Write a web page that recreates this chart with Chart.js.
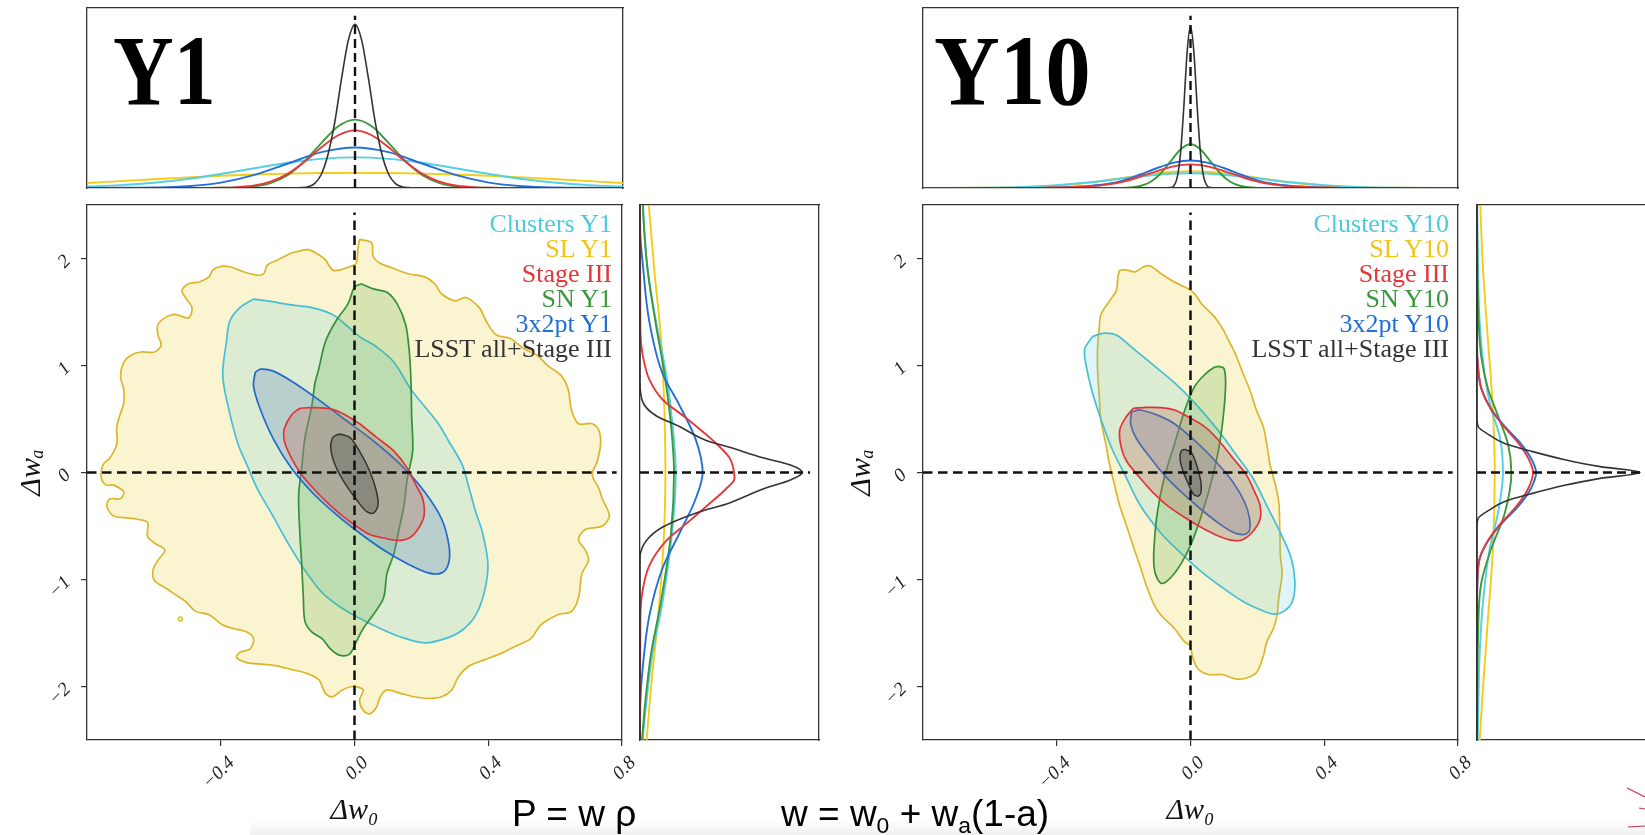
<!DOCTYPE html>
<html>
<head>
<meta charset="utf-8">
<title>LSST w0-wa forecasts</title>
<script src="https://cdn.jsdelivr.net/npm/chart.js@4.4.1/dist/chart.umd.min.js"></script>
<style>
  body { margin: 0; width: 1645px; height: 835px; overflow: hidden; background: #fff; position: relative; }
  canvas { position: absolute; }
  .big { position: absolute; top: 21px; font: bold 100px/100px "Liberation Serif", "DejaVu Serif", serif; color: #000; transform-origin: left top; }
  .legend { position: absolute; top: 211px; width: 300px; text-align: right; font: 26px/25px "Liberation Serif", "DejaVu Serif", serif; }
  .eq { position: absolute; top: 795px; font: 37px/37px "Liberation Sans", Arial, sans-serif; color: #000; white-space: nowrap; }
  .eq sub { font-size: 0.62em; vertical-align: -0.3em; line-height: 0; }
  .shade { position: absolute; left: 250px; top: 820px; width: 1395px; height: 15px; background: linear-gradient(to bottom, rgba(244,244,244,0), #f0f0f0); }
</style>
</head>
<body>
<div class="shade"></div>
<canvas id="top1" width="540" height="184" style="left:85px;top:6px"></canvas>
<canvas id="main1" width="660" height="640" style="left:0px;top:195px"></canvas>
<canvas id="side1" width="183" height="539" style="left:638px;top:203px"></canvas>
<canvas id="top10" width="539" height="184" style="left:921px;top:6px"></canvas>
<canvas id="main10" width="666" height="640" style="left:830px;top:195px"></canvas>
<canvas id="side10" width="183" height="539" style="left:1475px;top:203px"></canvas>

<div class="big" style="left:113px;transform:scaleX(0.84)">Y1</div>
<div class="big" style="left:934px;transform:scaleX(0.91)">Y10</div>
<div class="legend" id="leg1" style="left:312px"></div>
<div class="legend" id="leg10" style="left:1149px"></div>
<div class="eq" style="left:512px">P = w ρ</div>
<div class="eq" style="left:781px">w = w<sub>0</sub> + w<sub>a</sub>(1-a)</div>
<svg style="position:absolute;left:1620px;top:780px" width="25" height="55">
  <line x1="7" y1="8" x2="25" y2="17" stroke="#c8345a" stroke-width="1.2"/>
  <line x1="19" y1="28" x2="25" y2="29" stroke="#c8345a" stroke-width="1.2"/>
  <line x1="8" y1="47" x2="25" y2="46" stroke="#c8345a" stroke-width="1.2"/>
</svg>

<script>
// ─── Axis ticks ───────────────────────────────────────────────────────────────
const xTicks = [-0.4, 0, 0.4, 0.8];
const xTickLabels = ["−0.4", "0.0", "0.4", "0.8"];
const yTicks = [-2, -1, 0, 1, 2];
const yTickLabels = ["−2", "−1", "0", "1", "2"];

const legendY1 = ["Clusters Y1", "SL Y1", "Stage III", "SN Y1", "3x2pt Y1", "LSST all+Stage III"];
const legendY10 = ["Clusters Y10", "SL Y10", "Stage III", "SN Y10", "3x2pt Y10", "LSST all+Stage III"];
const legendKeys = ["cl", "sl", "st", "sn", "px", "ls"];

// ─── Y1 contours [Δw0, Δwa] ───────────────────────────────────────────────────
const slY1 = [[0.015,2.179],[0.051,2.147],[0.056,2.019],[0.077,1.955],[0.118,1.907],[0.158,1.86],[0.21,1.828],[0.24,1.764],[0.261,1.668],[0.302,1.604],[0.332,1.636],[0.373,1.541],[0.394,1.413],[0.424,1.286],[0.465,1.254],[0.506,1.158],[0.547,1.094],[0.578,0.998],[0.619,0.903],[0.639,0.775],[0.649,0.584],[0.67,0.456],[0.711,0.456],[0.731,0.392],[0.736,0.265],[0.726,0.105],[0.711,-0.022],[0.731,-0.15],[0.741,-0.246],[0.762,-0.405],[0.741,-0.501],[0.69,-0.533],[0.67,-0.628],[0.69,-0.724],[0.7,-0.82],[0.68,-0.947],[0.67,-1.171],[0.649,-1.298],[0.608,-1.33],[0.557,-1.426],[0.527,-1.553],[0.486,-1.617],[0.445,-1.681],[0.394,-1.745],[0.343,-1.809],[0.312,-1.904],[0.291,-2.032],[0.261,-2.096],[0.22,-2.112],[0.179,-2.096],[0.138,-2.064],[0.097,-2.032],[0.077,-2.096],[0.066,-2.191],[0.046,-2.255],[0.026,-2.223],[0.015,-2.128],[0.026,-2.032],[-0.005,-2.0],[-0.036,-2.032],[-0.066,-2.096],[-0.087,-2.064],[-0.107,-1.936],[-0.148,-1.872],[-0.189,-1.841],[-0.23,-1.809],[-0.271,-1.793],[-0.322,-1.777],[-0.353,-1.729],[-0.343,-1.681],[-0.312,-1.649],[-0.302,-1.553],[-0.322,-1.49],[-0.363,-1.458],[-0.394,-1.426],[-0.435,-1.33],[-0.475,-1.298],[-0.506,-1.203],[-0.537,-1.139],[-0.567,-1.075],[-0.598,-1.011],[-0.603,-0.915],[-0.588,-0.82],[-0.567,-0.724],[-0.598,-0.66],[-0.619,-0.596],[-0.619,-0.469],[-0.649,-0.437],[-0.69,-0.421],[-0.721,-0.405],[-0.741,-0.309],[-0.731,-0.246],[-0.7,-0.246],[-0.69,-0.182],[-0.721,-0.118],[-0.741,-0.118],[-0.757,-0.054],[-0.752,0.073],[-0.731,0.137],[-0.711,0.265],[-0.711,0.424],[-0.7,0.552],[-0.69,0.648],[-0.69,0.775],[-0.7,0.903],[-0.69,1.03],[-0.67,1.094],[-0.639,1.126],[-0.598,1.126],[-0.578,1.19],[-0.588,1.286],[-0.588,1.381],[-0.567,1.445],[-0.537,1.477],[-0.496,1.445],[-0.486,1.541],[-0.506,1.636],[-0.516,1.7],[-0.496,1.764],[-0.465,1.78],[-0.435,1.828],[-0.424,1.892],[-0.404,1.923],[-0.373,1.923],[-0.332,1.876],[-0.291,1.844],[-0.271,1.86],[-0.261,1.939],[-0.23,1.987],[-0.21,2.019],[-0.189,2.051],[-0.169,2.067],[-0.138,2.083],[-0.107,2.035],[-0.087,1.987],[-0.066,1.892],[-0.046,1.892],[-0.015,1.923],[0.005,1.955],[0.01,2.083]];
const slDotY1 = [[-0.521,-1.368]];
const clY1 = [[-0.302,1.62],[-0.261,1.604],[-0.189,1.566],[-0.128,1.541],[-0.066,1.477],[-0.026,1.381],[0.015,1.27],[0.066,1.174],[0.118,1.03],[0.169,0.775],[0.21,0.616],[0.251,0.456],[0.281,0.297],[0.322,0.073],[0.343,-0.15],[0.363,-0.373],[0.383,-0.565],[0.399,-0.852],[0.389,-1.107],[0.363,-1.33],[0.322,-1.474],[0.271,-1.553],[0.21,-1.592],[0.138,-1.537],[0.066,-1.442],[0.005,-1.346],[-0.046,-1.25],[-0.097,-1.123],[-0.148,-0.915],[-0.199,-0.66],[-0.25,-0.373],[-0.291,-0.15],[-0.322,0.073],[-0.348,0.265],[-0.373,0.552],[-0.394,0.903],[-0.383,1.222],[-0.373,1.413],[-0.343,1.541]];
const snY1 = [[0.02,1.764],[0.056,1.716],[0.097,1.684],[0.128,1.573],[0.153,1.381],[0.164,1.126],[0.169,0.839],[0.171,0.52],[0.174,0.2],[0.158,-0.054],[0.148,-0.309],[0.133,-0.533],[0.118,-0.756],[0.097,-0.947],[0.087,-1.171],[0.056,-1.33],[0.026,-1.458],[0.005,-1.585],[-0.015,-1.697],[-0.046,-1.707],[-0.072,-1.649],[-0.097,-1.553],[-0.128,-1.49],[-0.148,-1.394],[-0.153,-1.171],[-0.158,-0.852],[-0.164,-0.533],[-0.167,-0.214],[-0.158,0.041],[-0.148,0.329],[-0.128,0.616],[-0.118,0.839],[-0.107,0.966],[-0.087,1.222],[-0.056,1.413],[-0.02,1.573],[0.0,1.732]];
const pxY1 = [[-0.297,0.935],[-0.281,0.966],[-0.245,0.95],[-0.189,0.855],[-0.107,0.679],[-0.026,0.488],[0.056,0.297],[0.138,0.073],[0.21,-0.182],[0.261,-0.437],[0.283,-0.692],[0.281,-0.852],[0.261,-0.938],[0.22,-0.938],[0.158,-0.852],[0.087,-0.724],[0.015,-0.565],[-0.056,-0.389],[-0.128,-0.182],[-0.189,0.041],[-0.24,0.297],[-0.281,0.584],[-0.302,0.807]];
const stY1 = [[-0.164,0.6],[-0.128,0.606],[-0.066,0.59],[-0.026,0.536],[0.015,0.456],[0.066,0.329],[0.118,0.2],[0.158,0.041],[0.184,-0.118],[0.204,-0.246],[0.208,-0.405],[0.189,-0.533],[0.164,-0.612],[0.128,-0.635],[0.087,-0.612],[0.046,-0.58],[0.005,-0.5],[-0.036,-0.405],[-0.077,-0.293],[-0.118,-0.166],[-0.158,-0.022],[-0.189,0.137],[-0.21,0.297],[-0.21,0.408],[-0.189,0.536]];
const lsY1 = [[-0.046,0.36],[-0.015,0.33],[0.015,0.2],[0.046,0.01],[0.066,-0.18],[0.07,-0.31],[0.056,-0.38],[0.034,-0.36],[0.005,-0.25],[-0.031,-0.09],[-0.058,0.07],[-0.071,0.23],[-0.064,0.33]];

// ─── Y10 contours [Δw0, Δwa] ──────────────────────────────────────────────────
const slY10 = [[-0.212,1.892],[-0.191,1.892],[-0.166,1.876],[-0.14,1.923],[-0.12,1.93],[-0.089,1.86],[-0.048,1.78],[-0.007,1.716],[0.013,1.668],[0.034,1.573],[0.07,1.461],[0.095,1.349],[0.116,1.222],[0.136,1.094],[0.156,0.935],[0.177,0.775],[0.197,0.584],[0.218,0.424],[0.228,0.265],[0.238,0.073],[0.254,-0.118],[0.264,-0.278],[0.267,-0.533],[0.269,-0.788],[0.274,-0.947],[0.264,-1.171],[0.259,-1.33],[0.248,-1.458],[0.228,-1.585],[0.218,-1.713],[0.197,-1.872],[0.167,-1.92],[0.136,-1.93],[0.095,-1.888],[0.054,-1.888],[0.024,-1.841],[0.008,-1.745],[-0.002,-1.617],[-0.017,-1.585],[-0.048,-1.458],[-0.089,-1.33],[-0.109,-1.234],[-0.13,-1.075],[-0.15,-0.884],[-0.171,-0.692],[-0.191,-0.501],[-0.212,-0.309],[-0.227,-0.118],[-0.242,0.073],[-0.253,0.265],[-0.268,0.488],[-0.273,0.711],[-0.278,0.967],[-0.278,1.158],[-0.273,1.349],[-0.268,1.477],[-0.242,1.604],[-0.222,1.7],[-0.217,1.828]];
const clY10 = [[-0.293,1.27],[-0.263,1.301],[-0.222,1.286],[-0.171,1.158],[-0.109,0.998],[-0.048,0.839],[0.013,0.648],[0.075,0.424],[0.136,0.169],[0.187,-0.054],[0.228,-0.309],[0.269,-0.565],[0.3,-0.788],[0.312,-1.011],[0.305,-1.203],[0.279,-1.298],[0.248,-1.324],[0.208,-1.282],[0.156,-1.203],[0.095,-1.075],[0.034,-0.931],[-0.028,-0.756],[-0.089,-0.565],[-0.15,-0.309],[-0.191,-0.054],[-0.232,0.201],[-0.263,0.456],[-0.293,0.743],[-0.314,1.03],[-0.316,1.158]];
const snY10 = [[0.085,0.992],[0.1,0.973],[0.105,0.839],[0.1,0.584],[0.09,0.329],[0.075,0.073],[0.054,-0.182],[0.029,-0.437],[0.003,-0.66],[-0.028,-0.852],[-0.058,-0.979],[-0.084,-1.037],[-0.099,-0.995],[-0.109,-0.884],[-0.109,-0.692],[-0.099,-0.373],[-0.079,-0.054],[-0.048,0.265],[-0.017,0.584],[0.013,0.807],[0.044,0.919],[0.07,0.982]];
const pxY10 = [[-0.176,0.568],[-0.15,0.584],[-0.099,0.536],[-0.048,0.456],[0.013,0.297],[0.075,0.105],[0.126,-0.086],[0.162,-0.278],[0.177,-0.437],[0.175,-0.549],[0.156,-0.581],[0.121,-0.549],[0.075,-0.453],[0.024,-0.325],[-0.028,-0.182],[-0.079,-0.022],[-0.12,0.137],[-0.161,0.313],[-0.179,0.456]];
const stY10 = [[-0.171,0.6],[-0.13,0.609],[-0.089,0.606],[-0.048,0.584],[-0.007,0.52],[0.044,0.424],[0.085,0.297],[0.126,0.137],[0.167,-0.022],[0.192,-0.182],[0.208,-0.309],[0.208,-0.437],[0.187,-0.549],[0.156,-0.628],[0.126,-0.635],[0.085,-0.596],[0.034,-0.517],[-0.017,-0.421],[-0.069,-0.309],[-0.109,-0.198],[-0.15,-0.054],[-0.191,0.105],[-0.207,0.233],[-0.212,0.392],[-0.196,0.504]];
const lsY10 = [[-0.017,0.217],[0.003,0.185],[0.018,0.073],[0.029,-0.054],[0.032,-0.166],[0.024,-0.22],[0.008,-0.198],[-0.007,-0.102],[-0.022,0.01],[-0.031,0.121],[-0.028,0.201]];

// ─── 1D marginals: top [Δw0, density], side [Δwa, density] ────────────────────
const y1TopSL = [[-0.8,0.028],[-0.7,0.038],[-0.6,0.049],[-0.5,0.059],[-0.4,0.068],[-0.3,0.075],[-0.2,0.08],[-0.1,0.083],[0,0.084],[0.1,0.083],[0.2,0.08],[0.3,0.075],[0.4,0.068],[0.5,0.059],[0.6,0.049],[0.7,0.038],[0.8,0.028]];
const y1TopCL = [[-0.8,0.008],[-0.7,0.016],[-0.6,0.029],[-0.5,0.05],[-0.4,0.078],[-0.3,0.11],[-0.2,0.14],[-0.1,0.162],[0,0.17],[0.1,0.162],[0.2,0.14],[0.3,0.11],[0.4,0.078],[0.5,0.05],[0.6,0.029],[0.7,0.016],[0.8,0.008]];
const y1TopSN = [[-0.8,0],[-0.5,0],[-0.4,0.001],[-0.35,0.002],[-0.3,0.009],[-0.25,0.029],[-0.2,0.073],[-0.15,0.15],[-0.1,0.251],[-0.05,0.343],[0,0.38],[0.05,0.343],[0.1,0.251],[0.15,0.15],[0.2,0.073],[0.25,0.029],[0.3,0.009],[0.35,0.002],[0.4,0.001],[0.5,0],[0.8,0]];
const y1TopPX = [[-0.8,0],[-0.7,0.001],[-0.6,0.003],[-0.5,0.01],[-0.4,0.03],[-0.3,0.073],[-0.2,0.136],[-0.1,0.199],[0,0.225],[0.1,0.199],[0.2,0.136],[0.3,0.073],[0.4,0.03],[0.5,0.01],[0.6,0.003],[0.7,0.001],[0.8,0]];
const y1TopST = [[-0.8,0],[-0.5,0],[-0.4,0.001],[-0.35,0.005],[-0.3,0.014],[-0.25,0.037],[-0.2,0.08],[-0.15,0.147],[-0.1,0.226],[-0.05,0.293],[0,0.32],[0.05,0.293],[0.1,0.226],[0.15,0.147],[0.2,0.08],[0.25,0.037],[0.3,0.014],[0.35,0.005],[0.4,0.001],[0.5,0],[0.8,0]];
const y1TopLS = [[-0.8,0],[-0.2,0],[-0.16,0.002],[-0.14,0.007],[-0.12,0.026],[-0.1,0.078],[-0.08,0.19],[-0.06,0.37],[-0.04,0.61],[-0.02,0.82],[0,0.91],[0.02,0.82],[0.04,0.61],[0.06,0.37],[0.08,0.19],[0.1,0.078],[0.12,0.026],[0.14,0.007],[0.16,0.002],[0.2,0],[0.8,0]];

const y1SideSL = [[-2.5,0.037],[-2.0,0.062],[-1.37,0.1],[-0.71,0.13],[0,0.142],[0.59,0.136],[1.24,0.118],[1.89,0.08],[2.5,0.049]];
const y1SideCL = [[-2.5,0.015],[-2.17,0.034],[-1.69,0.07],[-1.2,0.127],[-0.55,0.18],[0,0.2],[0.43,0.183],[0.92,0.146],[1.41,0.09],[1.89,0.043],[2.39,0.019],[2.5,0.016]];
const y1SideSN = [[-2.5,0.011],[-2.17,0.028],[-1.69,0.062],[-1.2,0.118],[-0.55,0.174],[0,0.19],[0.43,0.174],[0.92,0.137],[1.41,0.086],[1.89,0.043],[2.39,0.019],[2.5,0.017]];
const y1SidePX = [[-2.5,0],[-2.15,0.002],[-1.83,0.015],[-1.34,0.052],[-0.89,0.127],[-0.57,0.22],[-0.25,0.31],[0,0.35],[0.3,0.313],[0.63,0.22],[0.92,0.127],[1.41,0.052],[1.96,0.015],[2.22,0.002],[2.5,0]];
const y1SideST = [[-2.5,0],[-1.36,0.002],[-1.1,0.015],[-0.87,0.052],[-0.64,0.146],[-0.48,0.257],[-0.317,0.37],[-0.154,0.48],[-0.056,0.528],[0.05,0.52],[0.138,0.5],[0.3,0.407],[0.51,0.257],[0.68,0.127],[0.87,0.052],[1.1,0.015],[1.32,0.002],[2.5,0]];
const y1SideLS = [[-2.5,0],[-0.8,0],[-0.64,0.034],[-0.51,0.127],[-0.38,0.31],[-0.284,0.5],[-0.154,0.687],[-0.07,0.84],[0,0.907],[0.07,0.84],[0.138,0.687],[0.236,0.5],[0.3,0.37],[0.43,0.22],[0.53,0.09],[0.66,0.015],[0.85,0],[2.5,0]];

const y10TopSL = [[-0.8,0],[-0.6,0.001],[-0.5,0.004],[-0.4,0.013],[-0.3,0.03],[-0.2,0.056],[-0.1,0.082],[0,0.093],[0.1,0.082],[0.2,0.056],[0.3,0.03],[0.4,0.013],[0.5,0.004],[0.6,0.001],[0.8,0]];
const y10TopCL = [[-0.8,0],[-0.6,0.002],[-0.5,0.006],[-0.4,0.016],[-0.3,0.032],[-0.2,0.054],[-0.1,0.074],[0,0.082],[0.1,0.074],[0.2,0.054],[0.3,0.032],[0.4,0.016],[0.5,0.006],[0.6,0.002],[0.8,0]];
const y10TopSN = [[-0.8,0],[-0.24,0],[-0.18,0.003],[-0.15,0.011],[-0.12,0.033],[-0.09,0.079],[-0.06,0.147],[-0.03,0.214],[0,0.243],[0.03,0.214],[0.06,0.147],[0.09,0.079],[0.12,0.033],[0.15,0.011],[0.18,0.003],[0.24,0],[0.8,0]];
const y10TopPX = [[-0.8,0],[-0.5,0],[-0.4,0.003],[-0.3,0.012],[-0.25,0.022],[-0.2,0.042],[-0.15,0.075],[-0.1,0.111],[-0.05,0.141],[0,0.153],[0.05,0.141],[0.1,0.111],[0.15,0.075],[0.2,0.042],[0.25,0.022],[0.3,0.012],[0.4,0.003],[0.5,0],[0.8,0]];
const y10TopST = [[-0.8,0],[-0.5,0],[-0.4,0.003],[-0.3,0.01],[-0.25,0.019],[-0.2,0.036],[-0.15,0.063],[-0.1,0.094],[-0.05,0.12],[0,0.131],[0.05,0.12],[0.1,0.094],[0.15,0.063],[0.2,0.036],[0.25,0.019],[0.3,0.01],[0.4,0.003],[0.5,0],[0.8,0]];
const y10TopLS = [[-0.8,0],[-0.08,0],[-0.06,0.002],[-0.05,0.012],[-0.04,0.056],[-0.03,0.19],[-0.02,0.45],[-0.01,0.757],[0,0.9],[0.01,0.757],[0.02,0.45],[0.03,0.19],[0.04,0.056],[0.05,0.012],[0.06,0.002],[0.08,0],[0.8,0]];

const y10SideSL = [[-2.5,0.015],[-2.0,0.034],[-1.37,0.061],[-0.71,0.089],[0,0.099],[0.59,0.089],[1.24,0.061],[1.89,0.034],[2.5,0.018]];
const y10SideCL = [[-2.5,0.004],[-2.34,0.006],[-1.69,0.015],[-1.2,0.034],[-0.71,0.071],[-0.38,0.117],[0,0.145],[0.336,0.127],[0.59,0.08],[0.914,0.043],[1.4,0.015],[1.89,0.006],[2.5,0.001]];
const y10SideSN = [[-2.5,0],[-1.52,0.006],[-1.03,0.024],[-0.71,0.08],[-0.38,0.155],[0,0.192],[0.268,0.173],[0.53,0.117],[0.786,0.061],[1.08,0.024],[1.57,0.006],[2.5,0]];
const y10SidePX = [[-2.5,0],[-1.3,0],[-1.03,0.002],[-0.8,0.015],[-0.64,0.061],[-0.48,0.136],[-0.317,0.23],[-0.154,0.3],[0,0.33],[0.138,0.3],[0.268,0.246],[0.43,0.155],[0.59,0.08],[0.786,0.024],[0.98,0.006],[1.17,0],[2.5,0]];
const y10SideST = [[-2.5,0],[-1.3,0],[-1.03,0.002],[-0.8,0.016],[-0.64,0.06],[-0.48,0.13],[-0.317,0.22],[-0.154,0.285],[0,0.313],[0.138,0.285],[0.268,0.235],[0.43,0.15],[0.59,0.078],[0.786,0.024],[0.98,0.006],[1.17,0],[2.5,0]];
const y10SideLS = [[-2.5,0],[-0.5,0],[-0.43,0.006],[-0.35,0.07],[-0.27,0.155],[-0.2,0.3],[-0.12,0.49],[-0.057,0.68],[0,0.91],[0.057,0.68],[0.12,0.49],[0.2,0.3],[0.27,0.155],[0.35,0.07],[0.43,0.006],[0.5,0],[2.5,0]];

// fiducial dashed lines
const fidV = [[0, -2.5], [0, 2.43]];
const fidH = [[-0.8, 0], [0.784, 0]];
const fidTop = [[0, 0], [0, 0.957]];
const fidSide = [[0, 0], [0.95, 0]];

// ─── Styles ──────────────────────────────────────────────────────────────────
const lineCol = { cl: "#45bfd6", sl: "#dcb62a", st: "#e0343a", sn: "#33913a", px: "#1f68cf", ls: "#333333" };
const fillCol = { cl: "rgba(77,200,224,0.18)", sl: "rgba(240,208,60,0.24)", st: "rgba(190,110,90,0.3)",
                  sn: "rgba(80,170,70,0.22)", px: "rgba(110,142,194,0.3)", ls: "rgba(50,55,50,0.28)" };
const margCol = { cl: "#55cfe2", sl: "#f5cb17", st: "#e5393c", sn: "#3c9a3e", px: "#2271d8", ls: "#333333" };
const textCol = { cl: "#4fc9dd", sl: "#f0c418", st: "#e3363b", sn: "#3a983c", px: "#1f6fd6", ls: "#333333" };

const SERIF = "'Liberation Serif', 'DejaVu Serif', serif";
const tickFont = { family: SERIF, style: "italic", size: 19 };
const titleFont = { family: SERIF, style: "italic", size: 30 };

const toPts = arr => arr.map(([x, y]) => ({ x, y }));
const toSide = arr => arr.map(([y, x]) => ({ x, y }));

function contour(arr, key, order) {
  return {
    data: toPts(arr.concat([arr[0]])),
    borderColor: lineCol[key], backgroundColor: fillCol[key],
    borderWidth: key === "ls" ? 1.5 : 1.7, fill: "shape", tension: 0.32,
    pointRadius: 0, order
  };
}

function dashed(pts) {
  return { data: pts, borderColor: "#111", borderWidth: 2.5, borderDash: [9.5, 5.5],
           fill: false, tension: 0, pointRadius: 0, order: 0 };
}

function curve(pts, key, order) {
  return { data: pts, borderColor: margCol[key], borderWidth: key === "ls" ? 1.6 : 1.9,
           fill: false, cubicInterpolationMode: "monotone", pointRadius: 0, order };
}

// scale sizes are pinned so the plot boxes land where the figure has them
function pin(s, size) {
  if (s.isHorizontal()) s.height = size; else s.width = size;
  s.paddingTop = 0; s.paddingBottom = 0; s.paddingLeft = 0; s.paddingRight = 0;
}

function boxAxis(pos, min, max) {
  return {
    type: "linear", position: pos, min, max,
    ticks: { display: false }, grid: { display: false },
    border: { display: true, color: "#333", width: 1.3 },
    afterFit: s => pin(s, 0)
  };
}

const baseOpts = {
  responsive: false, animation: false, events: [],
  plugins: { legend: { display: false }, tooltip: { enabled: false } }
};

// ─── Main 2D panels ──────────────────────────────────────────────────────────
function mainChart(id, sets, yWidth) {
  return new Chart(document.getElementById(id), {
    type: "line",
    data: { datasets: sets },
    options: {
      ...baseOpts,
      layout: { padding: { top: 10, right: 38, left: 0, bottom: 0 } },
      scales: {
        x: {
          type: "linear", position: "bottom", min: -0.8, max: 0.8,
          afterBuildTicks: s => { s.ticks = xTicks.map(v => ({ value: v })); },
          afterFit: s => pin(s, 95),
          ticks: { callback: (v, i) => xTickLabels[i], minRotation: 45, maxRotation: 45,
                   font: tickFont, color: "#222", padding: 6, labelOffset: 11 },
          grid: { drawOnChartArea: false, tickLength: 6, color: "#333", lineWidth: 1.2 },
          border: { display: true, color: "#333", width: 1.3 },
          title: { display: true, text: "Δw₀", font: titleFont, color: "#111", padding: { top: 0, bottom: 6 } }
        },
        y: {
          type: "linear", position: "left", min: -2.5, max: 2.5,
          afterBuildTicks: s => { s.ticks = yTicks.map(v => ({ value: v })); },
          afterFit: s => pin(s, yWidth),
          ticks: { callback: (v, i) => yTickLabels[i], minRotation: 45, maxRotation: 45,
                   font: tickFont, color: "#222", padding: 13 },
          grid: { drawOnChartArea: false, tickLength: 6, color: "#333", lineWidth: 1.2 },
          border: { display: true, color: "#333", width: 1.3 },
          title: { display: true, text: "Δwₐ", font: titleFont, color: "#111", padding: { top: 14, bottom: 0 } }
        },
        x2: boxAxis("top", -0.8, 0.8),
        y2: boxAxis("right", -2.5, 2.5)
      }
    }
  });
}

function mainSets(sl, cl, sn, px, st, ls, dot) {
  const sets = [
    contour(sl, "sl", 6), contour(cl, "cl", 5), contour(sn, "sn", 4),
    contour(px, "px", 3), contour(st, "st", 2), contour(ls, "ls", 1),
    dashed(toPts(fidV)), dashed(toPts(fidH))
  ];
  if (dot) sets.push({ data: toPts(dot), showLine: false, pointRadius: 2, pointBorderWidth: 1.3,
                       pointBackgroundColor: fillCol.sl, pointBorderColor: lineCol.sl, fill: false, order: 6 });
  return sets;
}

// ─── Marginal panels ─────────────────────────────────────────────────────────
function topChart(id, cols) {
  const [sl, cl, sn, px, st, ls] = cols;
  return new Chart(document.getElementById(id), {
    type: "line",
    data: { datasets: [
      curve(toPts(sl), "sl", 6), curve(toPts(cl), "cl", 5), curve(toPts(sn), "sn", 4),
      curve(toPts(px), "px", 3), curve(toPts(st), "st", 2), curve(toPts(ls), "ls", 1),
      { ...dashed(toPts(fidTop)), borderWidth: 2.4, borderDash: [9, 5] }
    ] },
    options: {
      ...baseOpts,
      layout: { padding: 2 },
      scales: {
        x: boxAxis("bottom", -0.8, 0.8), y: boxAxis("left", 0, 1),
        x2: boxAxis("top", -0.8, 0.8), y2: boxAxis("right", 0, 1)
      }
    }
  });
}

function sideChart(id, cols) {
  const [sl, cl, sn, px, st, ls] = cols;
  return new Chart(document.getElementById(id), {
    type: "line",
    data: { datasets: [
      curve(toSide(sl), "sl", 6), curve(toSide(cl), "cl", 5), curve(toSide(sn), "sn", 4),
      curve(toSide(px), "px", 3), curve(toSide(st), "st", 2), curve(toSide(ls), "ls", 1),
      { ...dashed(toPts(fidSide)), borderWidth: 2.4, borderDash: [9, 5] }
    ] },
    options: {
      ...baseOpts,
      indexAxis: "y",
      layout: { padding: 2 },
      scales: {
        x: boxAxis("bottom", 0, 1), y: boxAxis("left", -2.5, 2.5),
        x2: boxAxis("top", 0, 1), y2: boxAxis("right", -2.5, 2.5)
      }
    }
  });
}

function buildLegend(id, labels) {
  document.getElementById(id).innerHTML = labels
    .map((t, i) => `<div style="color:${textCol[legendKeys[i]]}">${t}</div>`).join("");
}

// Init
mainChart("main1", mainSets(slY1, clY1, snY1, pxY1, stY1, lsY1, slDotY1), 87);
mainChart("main10", mainSets(slY10, clY10, snY10, pxY10, stY10, lsY10), 93);
topChart("top1", [y1TopSL, y1TopCL, y1TopSN, y1TopPX, y1TopST, y1TopLS]);
topChart("top10", [y10TopSL, y10TopCL, y10TopSN, y10TopPX, y10TopST, y10TopLS]);
sideChart("side1", [y1SideSL, y1SideCL, y1SideSN, y1SidePX, y1SideST, y1SideLS]);
sideChart("side10", [y10SideSL, y10SideCL, y10SideSN, y10SidePX, y10SideST, y10SideLS]);
buildLegend("leg1", legendY1);
buildLegend("leg10", legendY10);
</script>
</body>
</html>
